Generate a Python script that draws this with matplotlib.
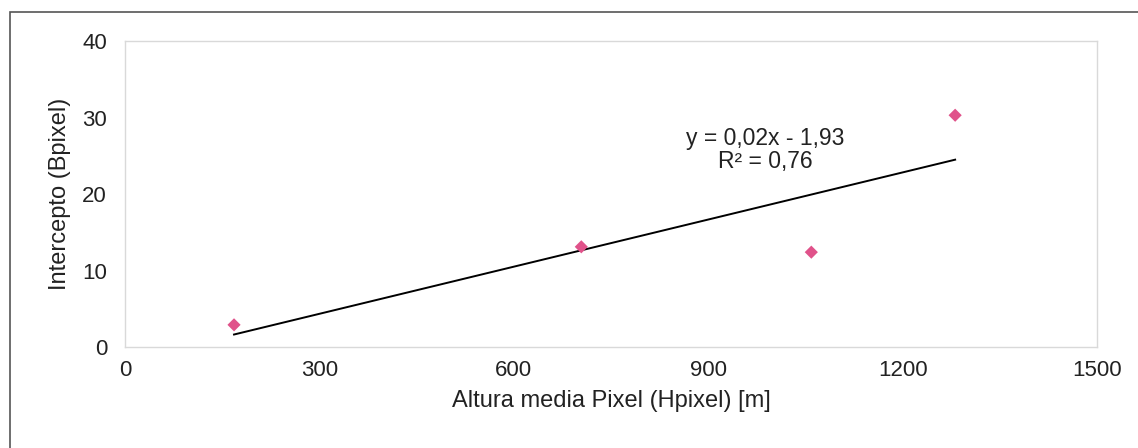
import matplotlib
matplotlib.use("Agg")
import matplotlib.pyplot as plt
import numpy as np
from matplotlib.patches import Rectangle

altura = [168, 704, 1059, 1281]
intercepto = [2.9, 13.1, 12.4, 30.3]
x_ticks = [0, 300, 600, 900, 1200, 1500]
y_ticks = [0, 10, 20, 30, 40]
eq_text = "y = 0,02x - 1,93\nR² = 0,76"

plt.rcParams['font.family'] = ['Liberation Sans', 'DejaVu Sans']
fig = plt.figure(figsize=(11.38, 4.48), dpi=100)
ax = fig.add_axes([0.110, 0.2254, 0.854, 0.683])

x = np.array(altura, dtype=float)
y = np.array(intercepto, dtype=float)
m, b = np.polyfit(x, y, 1)
xs = np.array([x.min(), x.max()])
ax.plot(xs, m * xs + b, color='black', lw=1.4, zorder=2)
ax.scatter(x, y, marker='D', s=45, color='#E0528A', edgecolors='none', zorder=3)

ax.set_xlim(0, 1500)
ax.set_ylim(0, 40)
ax.set_xticks(x_ticks)
ax.set_yticks(y_ticks)
ax.tick_params(length=0, labelsize=16, colors='#222222')
ax.tick_params(axis='x', pad=9)
ax.tick_params(axis='y', pad=13)
for s in ax.spines.values():
    s.set_color('#d9d9d9')
    s.set_linewidth(1.0)

ax.set_xlabel("Altura media Pixel (Hpixel) [m]", fontsize=17, labelpad=7, color='#222222')
ax.set_ylabel("Intercepto (Bpixel)", fontsize=17, labelpad=8, color='#222222')

ax.text(988, 25.8, eq_text, ha='center', va='center', fontsize=16.5,
        color='#222222', linespacing=1.0)

fig.patches.append(Rectangle((0.009, -0.1), 1.2, 1.073, transform=fig.transFigure,
                             fill=False, edgecolor='#555555', lw=1.2))

fig.savefig("out.png", dpi=100)
